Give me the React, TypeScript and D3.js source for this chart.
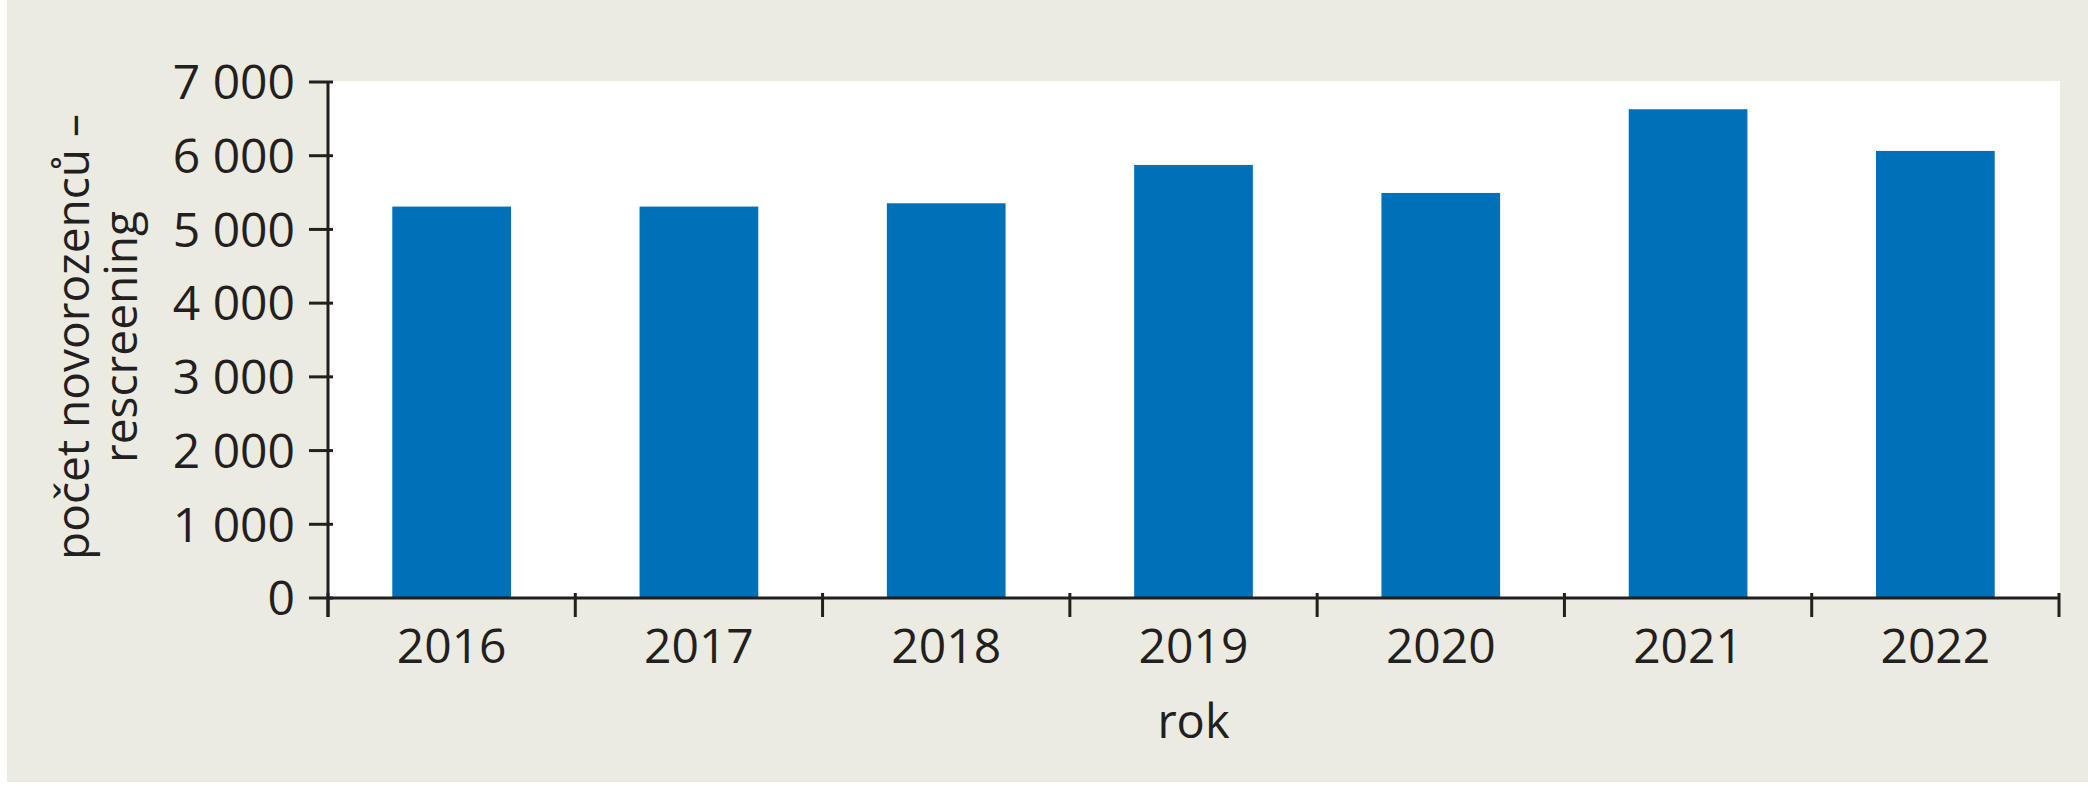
import React from "react";
import * as d3 from "d3";

const years: string[] = ["2016", "2017", "2018", "2019", "2020", "2021", "2022"];
const counts: number[] = [5310, 5310, 5355, 5875, 5495, 6630, 6065];
const yTicks: number[] = [0, 1000, 2000, 3000, 4000, 5000, 6000, 7000];
const yTitleLines: string[] = ["počet novorozenců –", "rescreening"];
const xTitle = "rok";

const W = 2088;
const H = 800;
const left = 328;
const right = 2059;
const top = 82;
const bottom = 598;
const font = "'Open Sans', 'Noto Sans', sans-serif";
const ink = "#231f20";

const locale = d3.formatLocale({ decimal: ",", thousands: "\u00a0", grouping: [3], currency: ["", " Kč"] });
const fmt = locale.format(",d");

export default function App() {
  const xOuter = d3.scaleBand<string>().domain(years).range([left, right]).padding(0);
  const xBar = d3
    .scaleBand<string>()
    .domain(years)
    .range([left, right])
    .paddingInner(0.52)
    .paddingOuter(0.26);
  const y = d3.scaleLinear().domain([0, 7000]).range([bottom, top]);
  const boundaries = [...years.map((d) => xOuter(d) as number), right];

  return (
    <div style={{ position: "absolute", left: 0, top: 0 }}>
      <svg width={W} height={H} style={{ display: "block" }}>
        <rect x={0} y={0} width={W} height={H} fill="#ffffff" />
        <rect x={7} y={0} width={W - 7} height={782} fill="#ecebe1" />
        <rect x={left} y={top - 1} width={2060 - left} height={bottom - top + 1} fill="#ffffff" />
        {years.map((d, i) => (
          <rect
            key={d}
            x={xBar(d)}
            y={y(counts[i])}
            width={xBar.bandwidth()}
            height={y(0) - y(counts[i])}
            fill="#0070b9"
          />
        ))}
        {/* y axis */}
        <line x1={left} x2={left} y1={top - 1} y2={617} stroke={ink} strokeWidth={3} />
        {yTicks.map((t) => (
          <g key={t}>
            <line x1={309} x2={333} y1={y(t)} y2={y(t)} stroke={ink} strokeWidth={3} />
            <text
              x={295}
              y={y(t)}
              dy="0.36em"
              textAnchor="end"
              fontFamily={font}
              fontSize={48}
              fill={ink}
            >
              {fmt(t)}
            </text>
          </g>
        ))}
        {/* x axis */}
        <line x1={left} x2={right} y1={bottom} y2={bottom} stroke={ink} strokeWidth={3} />
        {boundaries.map((b, i) => (
          <line key={i} x1={b} x2={b} y1={593} y2={617} stroke={ink} strokeWidth={3} />
        ))}
        {years.map((d) => (
          <text
            key={d}
            x={(xOuter(d) as number) + xOuter.bandwidth() / 2}
            y={663}
            textAnchor="middle"
            fontFamily={font}
            fontSize={48}
            fill={ink}
          >
            {d}
          </text>
        ))}
        <text
          x={(left + right) / 2}
          y={738}
          textAnchor="middle"
          fontFamily={font}
          fontSize={47}
          fill={ink}
        >
          {xTitle}
        </text>
        {yTitleLines.map((line, i) => (
          <text
            key={i}
            transform={`translate(${89 + i * 48},337) rotate(-90)`}
            textAnchor="middle"
            fontFamily={font}
            fontSize={46}
            fill={ink}
          >
            {line}
          </text>
        ))}
      </svg>
    </div>
  );
}
